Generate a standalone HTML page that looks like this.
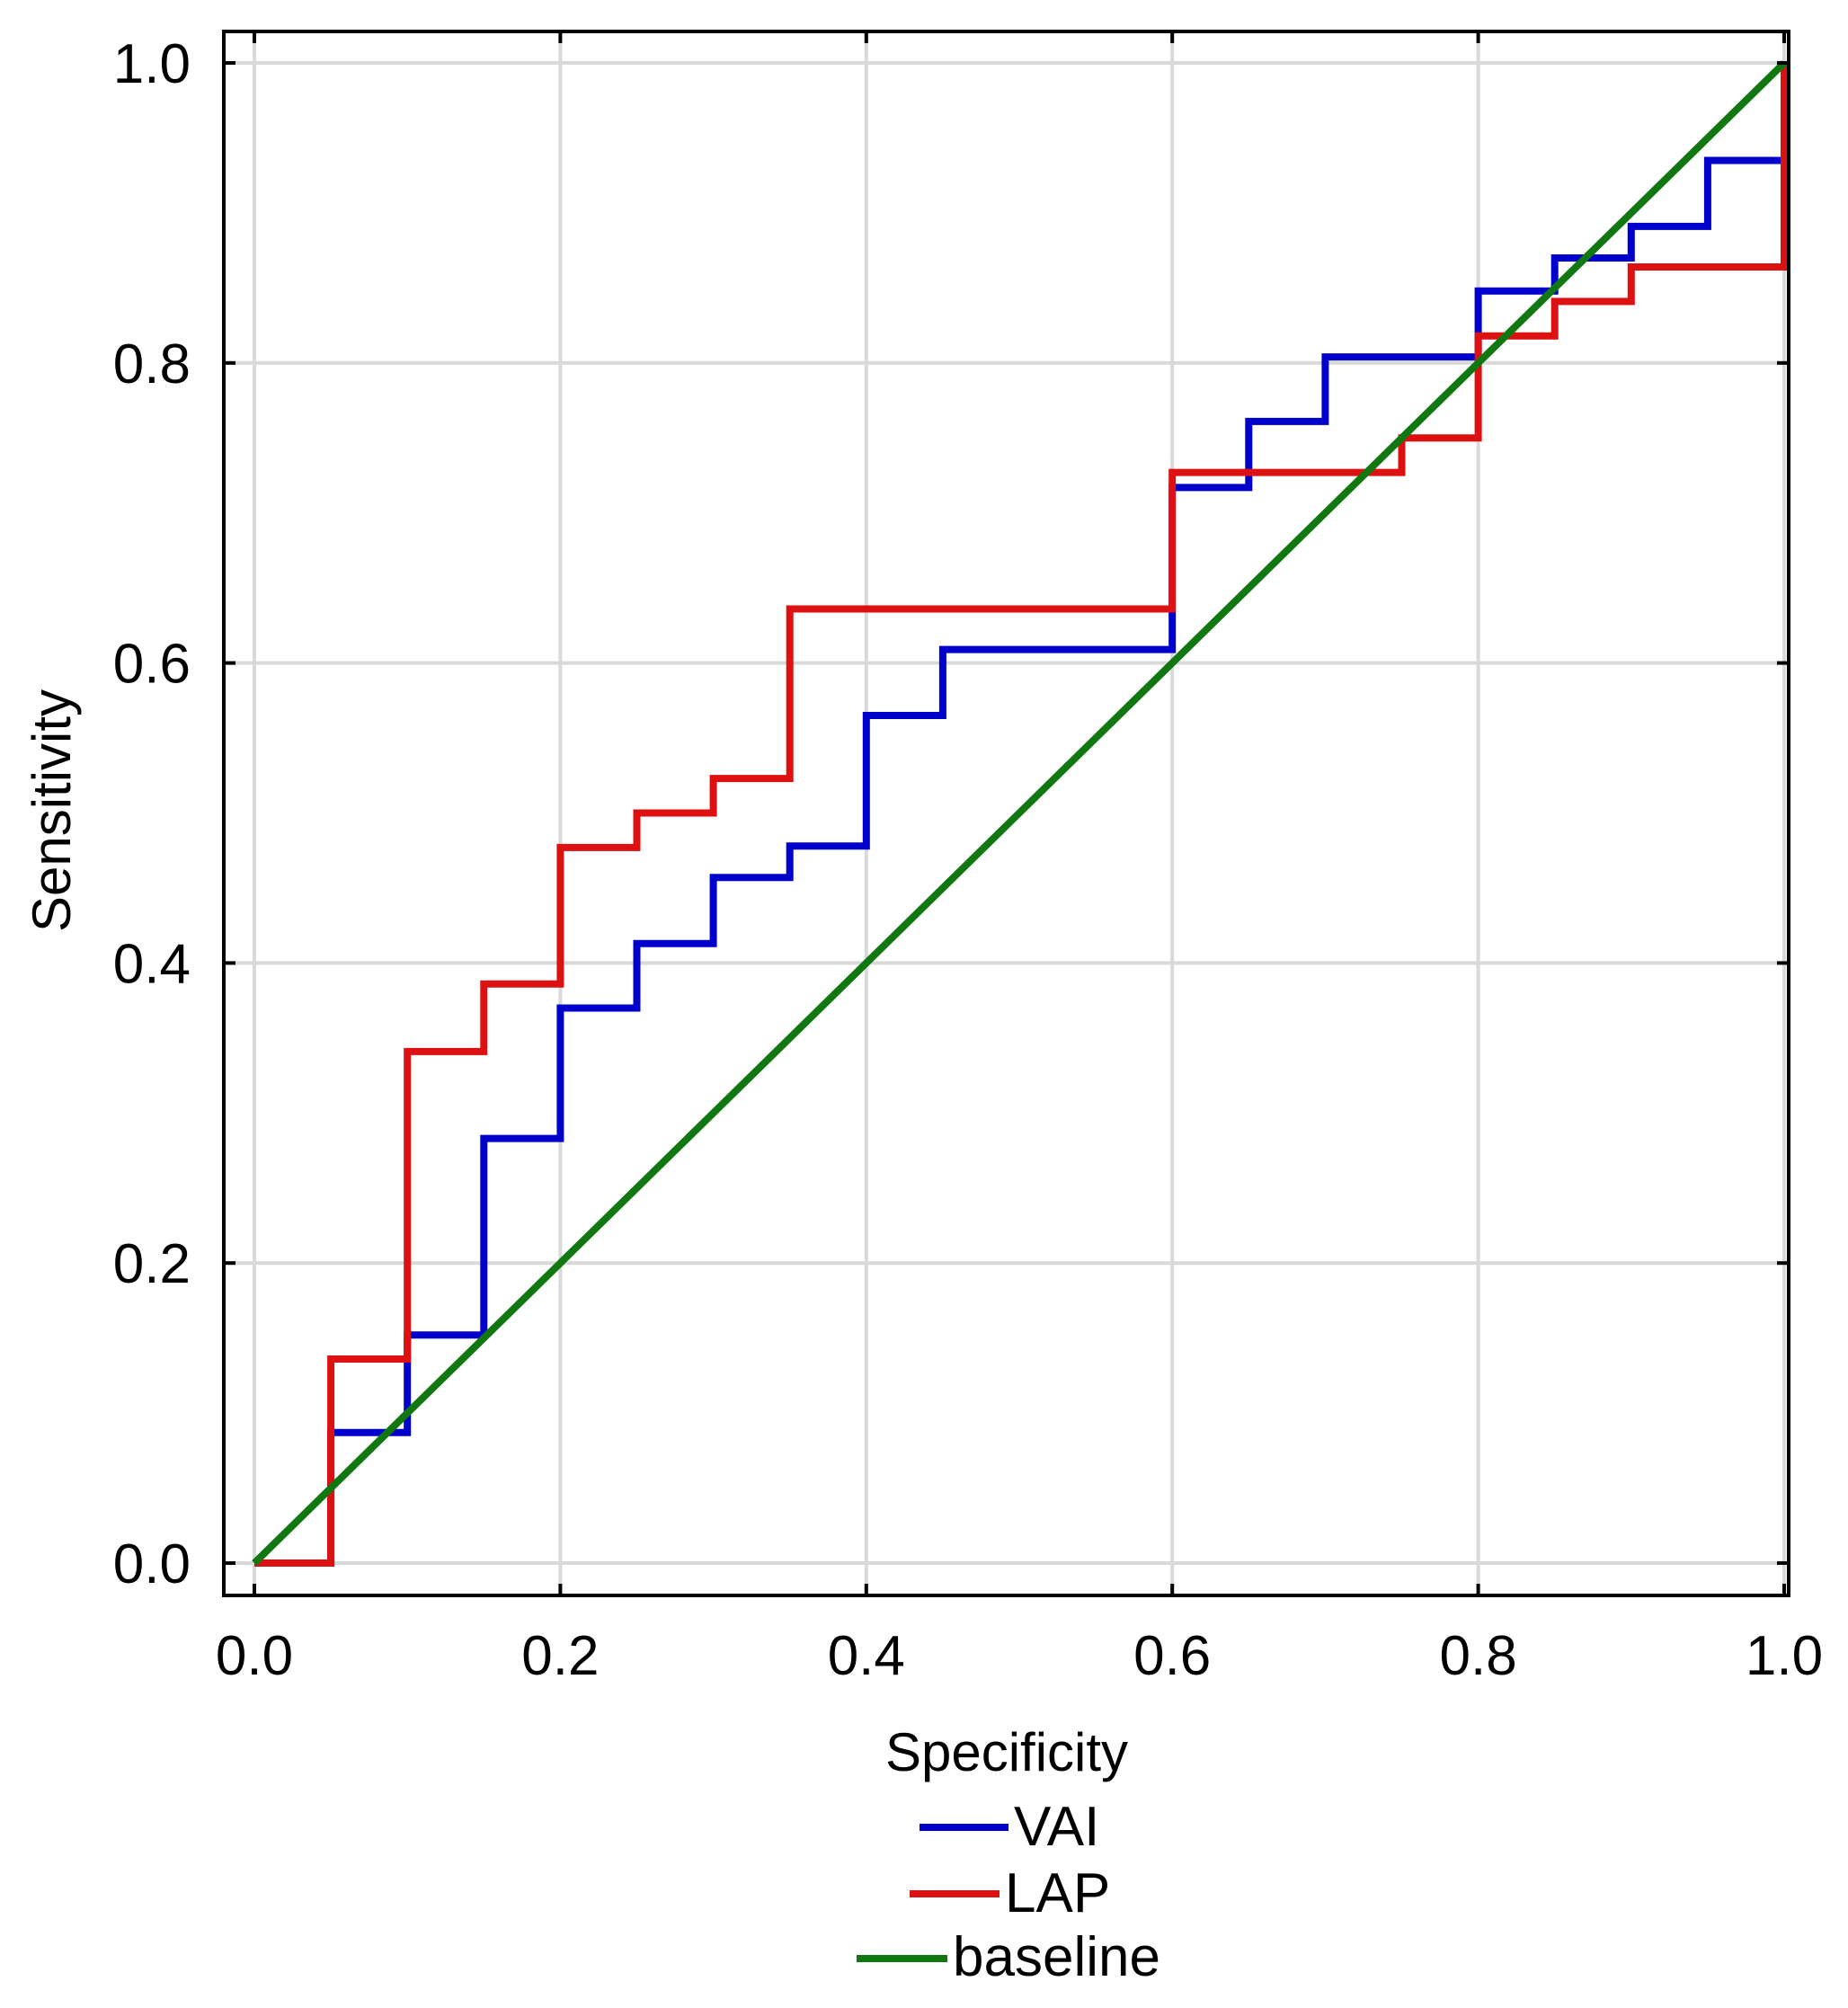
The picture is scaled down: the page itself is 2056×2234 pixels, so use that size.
<!DOCTYPE html>
<html><head><meta charset="utf-8"><style>
html,body{margin:0;padding:0;background:#fff;}
svg{display:block;font-family:"Liberation Sans",Arial,sans-serif;}
</style></head><body>
<svg id="chart" width="2056" height="2234" viewBox="0 0 2056 2234" xmlns="http://www.w3.org/2000/svg">
<rect x="0" y="0" width="2056" height="2234" fill="#fff"/>
<g id="grid"></g>
<g id="series"></g>
<rect x="249" y="35" width="1741" height="1740" fill="none" stroke="#000" stroke-width="4"/>
<g id="ticks"></g>
<text x="1120" y="1970" font-size="60" text-anchor="middle" fill="#000">Specificity</text>
<text x="0" y="0" font-size="60" text-anchor="middle" fill="#000" transform="translate(78,902) rotate(-90)">Sensitivity</text>
<g>
  <g>
    <line x1="1023" y1="2033" x2="1122" y2="2033" stroke="#0000cc" stroke-width="8"/>
    <text x="1128" y="2053" font-size="62" fill="#000">VAI</text>
  </g>
  <g>
    <line x1="1012" y1="2107" x2="1112" y2="2107" stroke="#dd1111" stroke-width="8"/>
    <text x="1118" y="2127" font-size="62" fill="#000">LAP</text>
  </g>
  <g>
    <line x1="953" y1="2179" x2="1054" y2="2179" stroke="#117711" stroke-width="8"/>
    <text x="1060" y="2198" font-size="62" fill="#000">baseline</text>
  </g>
</g>
</svg>
<script>
const ticks = [0, 0.2, 0.4, 0.6, 0.8, 1.0];
const tickLabels = ["0.0", "0.2", "0.4", "0.6", "0.8", "1.0"];
const vaiX = [0.05, 0.10, 0.15, 0.20, 0.25, 0.30, 0.35, 0.40, 0.45, 0.60, 0.65, 0.70, 0.80, 0.85, 0.90, 0.95, 1.00];
const vaiY = [0.087, 0.152, 0.283, 0.370, 0.413, 0.457, 0.478, 0.565, 0.609, 0.717, 0.761, 0.804, 0.848, 0.870, 0.891, 0.935, 1.000];
const lapX = [0.05, 0.10, 0.15, 0.20, 0.25, 0.30, 0.35, 0.60, 0.75, 0.80, 0.85, 0.90, 1.00];
const lapY = [0.136, 0.341, 0.386, 0.477, 0.500, 0.523, 0.636, 0.727, 0.750, 0.818, 0.841, 0.864, 1.000];
const baseX = [0, 1];
const baseY = [0, 1];

const NS = "http://www.w3.org/2000/svg";
function sx(v){ return 283 + v * 1702; }
function sy(v){ return 1739 - v * 1669; }
function mk(tag, attrs, parent){
  const e = document.createElementNS(NS, tag);
  for (const k in attrs) e.setAttribute(k, attrs[k]);
  parent.appendChild(e);
  return e;
}
const grid = document.getElementById('grid');
const tk = document.getElementById('ticks');
const series = document.getElementById('series');

ticks.forEach((t, i) => {
  const gx = mk('line', {x1: sx(t), x2: sx(t), y1: 35, y2: 1775, stroke: '#d9d9d9', 'stroke-width': 4}, grid);
  
  
  const gy = mk('line', {x1: 249, x2: 1990, y1: sy(t), y2: sy(t), stroke: '#d9d9d9', 'stroke-width': 4}, grid);
  
  
  // ticks inside frame edges
  mk('line', {x1: sx(t), x2: sx(t), y1: 35, y2: 48, stroke: '#000', 'stroke-width': 4}, tk);
  mk('line', {x1: sx(t), x2: sx(t), y1: 1775, y2: 1762, stroke: '#000', 'stroke-width': 4}, tk);
  mk('line', {x1: 249, x2: 262, y1: sy(t), y2: sy(t), stroke: '#000', 'stroke-width': 4}, tk);
  mk('line', {x1: 1990, x2: 1977, y1: sy(t), y2: sy(t), stroke: '#000', 'stroke-width': 4}, tk);
  const xl = mk('text', {x: sx(t), y: 1863, 'font-size': 62, 'text-anchor': 'middle', fill: '#000'}, tk);
  xl.textContent = tickLabels[i];
  
  
  const yl = mk('text', {x: 212, y: sy(t) + 22, 'font-size': 62, 'text-anchor': 'end', fill: '#000'}, tk);
  yl.textContent = tickLabels[i];
  
  
});

function stepPath(xs, ys){
  let d = 'M' + sx(0) + ' ' + sy(0);
  for (let i = 0; i < xs.length; i++){
    d += ' H' + sx(xs[i]) + ' V' + sy(ys[i]);
  }
  return d;
}
const base = mk('line', {x1: sx(baseX[0]), y1: sy(baseY[0]), x2: sx(baseX[1]), y2: sy(baseY[1]), stroke: '#117711', 'stroke-width': 8}, series);


const vai = mk('path', {d: stepPath(vaiX, vaiY), fill: 'none', stroke: '#0000cc', 'stroke-width': 8, 'stroke-linejoin': 'miter'}, series);


const lap = mk('path', {d: stepPath(lapX, lapY), fill: 'none', stroke: '#dd1111', 'stroke-width': 8, 'stroke-linejoin': 'miter'}, series);


// green drawn on top like reference
series.appendChild(base);
</script>
</body></html>
